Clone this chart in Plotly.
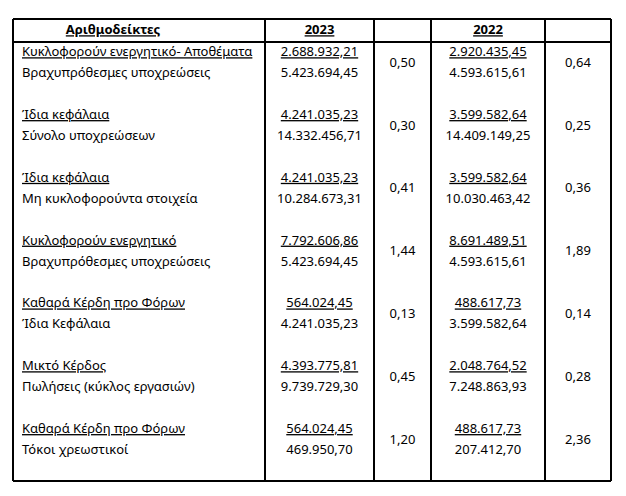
import plotly.graph_objects as go

# table content (Greek ratio sheet)
numerators = ["Κυκλοφορούν ενεργητικό- Αποθέματα", "Ίδια κεφάλαια", "Ίδια κεφάλαια",
              "Κυκλοφορούν ενεργητικό", "Καθαρά Κέρδη προ Φόρων", "Μικτό Κέρδος",
              "Καθαρά Κέρδη προ Φόρων"]
denominators = ["Βραχυπρόθεσμες υποχρεώσεις", "Σύνολο υποχρεώσεων", "Μη κυκλοφορούντα στοιχεία",
                "Βραχυπρόθεσμες υποχρεώσεις", "Ίδια Κεφάλαια", "Πωλήσεις (κύκλος εργασιών)",
                "Τόκοι χρεωστικοί"]
num_2023 = ["2.688.932,21", "4.241.035,23", "4.241.035,23", "7.792.606,86", "564.024,45",
            "4.393.775,81", "564.024,45"]
den_2023 = ["5.423.694,45", "14.332.456,71", "10.284.673,31", "5.423.694,45", "4.241.035,23",
            "9.739.729,30", "469.950,70"]
ratio_2023 = ["0,50", "0,30", "0,41", "1,44", "0,13", "0,45", "1,20"]
num_2022 = ["2.920.435,45", "3.599.582,64", "3.599.582,64", "8.691.489,51", "488.617,73",
            "2.048.764,52", "488.617,73"]
den_2022 = ["4.593.615,61", "14.409.149,25", "10.030.463,42", "4.593.615,61", "3.599.582,64",
            "7.248.863,93", "207.412,70"]
ratio_2022 = ["0,64", "0,25", "0,36", "1,89", "0,14", "0,28", "2,36"]
headers = ["Αριθμοδείκτες", "2023", "2022"]

FONT = "Noto Sans"
SIZE = 13

# layout in pixel units (axes map 1:1 to the page)
W, H = 626, 496
col_lines = [13, 265, 374, 431, 545, 611]
top, head_bottom, bottom = 19, 42, 481
row0, row_step, den_gap = 53, 62.8, 21
label_x = 22
c2023 = (col_lines[1] + col_lines[2]) / 2
cr23 = (col_lines[2] + col_lines[3]) / 2
c2022 = (col_lines[3] + col_lines[4]) / 2
cr22 = (col_lines[4] + col_lines[5]) / 2

n = len(numerators)
y_num = [row0 + i * row_step for i in range(n)]
y_den = [y + den_gap for y in y_num]
y_mid = [y + den_gap / 2 for y in y_num]

fig = go.Figure()
txt = dict(family=FONT, size=SIZE, color="black")


def add_text(xs, ys, labels, pos, underline=False, bold=False):
    t = labels
    if underline:
        t = ["<u>" + s + "</u>" for s in t]
    if bold:
        t = ["<b>" + s + "</b>" for s in t]
    fig.add_trace(go.Scatter(x=xs, y=ys, text=t, mode="text", textposition=pos,
                             textfont=txt, hoverinfo="skip", showlegend=False))


# header
add_text([113, c2023, c2022], [31, 31, 31], headers, "middle center", underline=True, bold=True)
# labels
add_text([label_x] * n, y_num, numerators, "middle right", underline=True)
add_text([label_x] * n, y_den, denominators, "middle right")
# 2023
add_text([c2023] * n, y_num, num_2023, "middle center", underline=True)
add_text([c2023] * n, y_den, den_2023, "middle center")
add_text([cr23] * n, y_mid, ratio_2023, "middle center")
# 2022
add_text([c2022] * n, y_num, num_2022, "middle center", underline=True)
add_text([c2022] * n, y_den, den_2022, "middle center")
add_text([cr22] * n, y_mid, ratio_2022, "middle center")

# borders
line = dict(color="black", width=2)
for x in col_lines:
    fig.add_shape(type="line", x0=x, x1=x, y0=top, y1=bottom, xref="x", yref="y", line=line)
for y in [top, head_bottom, bottom]:
    fig.add_shape(type="line", x0=col_lines[0], x1=col_lines[-1], y0=y, y1=y,
                  xref="x", yref="y", line=line)

fig.update_xaxes(range=[0, W], visible=False, fixedrange=True)
fig.update_yaxes(range=[H, 0], visible=False, fixedrange=True)
fig.update_layout(width=W, height=H, margin=dict(l=0, r=0, t=0, b=0),
                  plot_bgcolor="white", paper_bgcolor="white")

# drop the default page margin so the figure sits at the window's top-left
fig.write_html("out.html", config={"displayModeBar": False},
               post_script="document.body.style.margin='0';")
